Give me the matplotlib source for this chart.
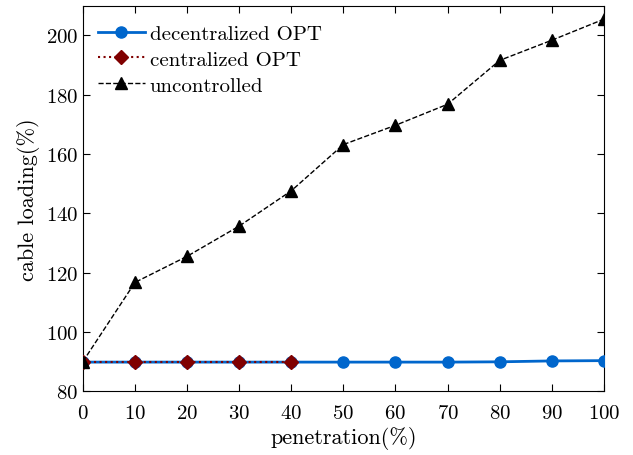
import matplotlib
matplotlib.use("Agg")
import matplotlib.pyplot as plt

plt.rcParams['font.family'] = 'serif'
plt.rcParams['font.serif'] = ['cmr10']
plt.rcParams['mathtext.fontset'] = 'cm'
plt.rcParams['axes.formatter.use_mathtext'] = True

penetration = [0, 10, 20, 30, 40, 50, 60, 70, 80, 90, 100]
decentralized = [89.8, 89.8, 89.8, 89.8, 89.8, 89.8, 89.8, 89.8, 89.9, 90.2, 90.3]
centralized_x = [0, 10, 20, 30, 40]
centralized = [89.8, 89.8, 89.8, 89.8, 89.8]
uncontrolled = [90.0, 116.7, 125.5, 135.7, 147.6, 163.2, 169.7, 176.8, 191.6, 198.4, 205.5]

fig = plt.figure(figsize=(6.33, 4.56), dpi=100)
ax = fig.add_axes([0.131, 0.140, 0.823, 0.845])

ax.plot(penetration, decentralized, '-o', color='#0066cc', lw=2, ms=8,
        label='decentralized OPT', zorder=3)
ax.plot(centralized_x, centralized, ':D', color='#800000', lw=1.5, ms=7,
        label='centralized OPT', zorder=4)
ax.plot(penetration, uncontrolled, '--^', color='black', lw=1, ms=8,
        label='uncontrolled', zorder=5)

ax.set_xlim(0, 100)
ax.set_ylim(80, 210)
ax.set_xticks(range(0, 101, 10))
ax.set_yticks(range(80, 201, 20))
ax.tick_params(direction='in', top=True, right=True, labelsize=15, length=5)
ax.tick_params(axis='x', pad=9)
ax.set_xlabel('penetration(%)', fontsize=16, labelpad=3)
ax.set_ylabel('cable loading(%)', fontsize=16)
ax.legend(loc='upper left', bbox_to_anchor=(0, 0.99), frameon=False,
          fontsize=15, handlelength=2.3, borderaxespad=0.3,
          labelspacing=0.35, handletextpad=0.2)

fig.savefig('out.png', dpi=100)
